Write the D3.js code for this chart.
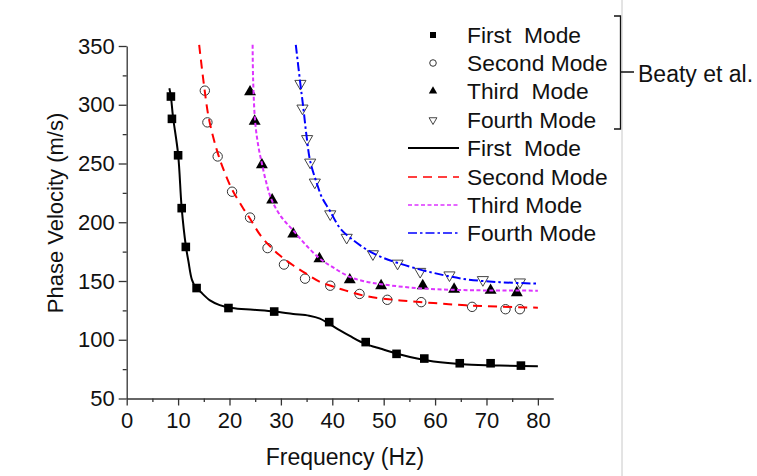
<!DOCTYPE html>
<html><head><meta charset="utf-8">
<script src="https://cdn.jsdelivr.net/npm/d3@7"></script>
<style>
body{margin:0;background:#fff;}
svg{font-family:Arial,"Liberation Sans",sans-serif;}
</style></head>
<body><svg id="c" width="757" height="476"></svg>
<script>
// ---- data ----
const xTicks = [0,10,20,30,40,50,60,70,80];
const xMinor = [5,15,25,35,45,55,65,75];
const yTicks = [50,100,150,200,250,300,350];
const yMinor = [75,125,175,225,275,325];

const measNames = ["First  Mode","Second Mode","Third  Mode","Fourth Mode"];
const lineNames = ["First  Mode","Second Mode","Third Mode","Fourth Mode"];
const groupLabel = "Beaty et al.";

const firstF  = [8.6,8.8,10.0,10.7,11.5,13.6,19.8,28.7,39.4,46.5,52.5,57.9,64.8,70.8,76.7];
const firstV  = [307,288,257,212,179,144,127,124,115,98,88,84,80,80,78];
const secondF = [15.2,15.7,17.7,20.5,24.0,27.4,30.6,34.7,39.6,45.3,50.7,57.3,67.2,73.7,76.5];
const secondV = [312,285,256,226,204,178,164,152,146,139,134,132,128,126,126];
const thirdF  = [24.0,24.9,26.3,28.3,32.4,37.5,43.4,49.5,57.6,63.7,70.8,75.9];
const thirdV  = [311,286,249,219,190,169,151,146,146,143,142,140];
const fourthF = [33.8,34.2,35.1,35.7,36.6,39.6,42.8,47.9,52.7,57.1,62.8,69.3,76.5];
const fourthV = [318,297,271,251,234,207,187,173,165,158,155,151,149];

const firstLineF  = [8.3,8.6,9.0,10.0,10.7,11.5,12.0,12.7,13.5,14.3,16.2,18.1,20.5,24.6,28.7,32.4,35.5,37.6,39.4,41.5,43.5,45.4,47.4,49.3,53.2,56.5,59.7,66.1,72.6,80.0];
const firstLineV  = [314,307,290,258,212,180,167,151,144,141,133.5,129.5,127,125.5,124,122,120.5,118,113.5,108,103,98.5,95,92.5,87.5,84,81.5,79,78,77.5];
const secondLineF = [14.1,15.0,16.0,17.5,19.0,20.5,22.5,24.0,26.0,28.0,30.0,32.5,35.0,37.5,40.0,42.5,46.7,53.2,59.7,66.0,72.6,80.0];
const secondLineV = [351,318,288,262,243,228,213,203,189,179,171,163,156,149.5,145.5,142,137,133.5,131.2,129.3,128.2,127.3];
const thirdLineF  = [24.5,24.6,25.0,25.6,26.3,27.2,28.2,30.0,32.4,35.0,37.6,40.0,43.4,46.5,49.9,56.4,62.9,69.4,80.0];
const thirdLineV  = [351,321,285,265,250,233,219,205,193,180,169,162,153.5,149.5,147,144,142.6,142,141.8];
const fourthLineF = [32.9,33.7,34.4,35.0,35.7,37.0,38.0,39.5,41.5,44.0,48.0,53.0,59.6,66.0,72.6,80.0];
const fourthLineV = [351,321,296,273,252,233,221,210,195,185,173.5,165,157,151.5,149,147.8];

// ---- build ----
const svg = d3.select("#c");
const x = d3.scaleLinear().domain([0,83]).range([126.7,553.3]);
const y = d3.scaleLinear().domain([50,350]).range([398.5,46]);

const zip = (a,b)=>a.map((v,i)=>[v,b[i]]);
const meas = [zip(firstF,firstV),zip(secondF,secondV),zip(thirdF,thirdV),zip(fourthF,fourthV)];
const lines = [zip(firstLineF,firstLineV),zip(secondLineF,secondLineV),zip(thirdLineF,thirdLineV),zip(fourthLineF,fourthLineV)];

const lineStyles = [
  {color:"#000000", dash:null, w:2},
  {color:"#ff0000", dash:"9,6", w:2},
  {color:"#dd33ff", dash:"4,2.5", w:2},
  {color:"#0000ff", dash:"9,3,2.5,3", w:2}
];

// markers
const sq = d3.symbol().type(d3.symbolSquare);
const tri = d3.symbol().type(d3.symbolTriangle);
function drawMarker(g, k, cx, cy, big){
  const s = big ? 1 : 0.7;
  if(k===0){
    g.append("path").attr("d", sq.size(74*s*s)()).attr("transform",`translate(${cx},${cy})`).attr("fill","#000");
  } else if(k===1){
    g.append("circle").attr("cx",cx).attr("cy",cy).attr("r",4.7*s).attr("fill","none").attr("stroke","#333").attr("stroke-width",1);
  } else if(k===2){
    g.append("path").attr("d", tri.size(62*s*s)()).attr("transform",`translate(${cx},${cy})`).attr("fill","#000");
  } else {
    g.append("path").attr("d", tri.size(54*s*s)()).attr("transform",`translate(${cx},${cy}) rotate(180)`).attr("fill","none").attr("stroke","#444").attr("stroke-width",1);
  }
}

const gm = svg.append("g");
meas.forEach((pts,k)=>pts.forEach(p=>drawMarker(gm,k,x(p[0]),y(p[1]),true)));

const lineGen = d3.line().x(d=>x(d[0])).y(d=>y(d[1])).curve(d3.curveCatmullRom.alpha(0.5));
lines.forEach((pts,k)=>{
  const st = lineStyles[k];
  svg.append("path").attr("d",lineGen(pts)).attr("fill","none")
    .attr("stroke",st.color).attr("stroke-width",st.w)
    .attr("stroke-dasharray",st.dash);
});

// axes
const axCol = "#333";
svg.append("g").attr("transform",`translate(0,${y(50)})`)
  .call(d3.axisBottom(x).tickValues(xTicks).tickSize(7).tickSizeOuter(0).tickPadding(6.5));
svg.append("g").attr("transform",`translate(0,${y(50)})`)
  .call(d3.axisBottom(x).tickValues(xMinor).tickSize(3.5).tickSizeOuter(0).tickFormat(""))
  .select(".domain").remove();
svg.append("g").attr("transform",`translate(${x(0)},0)`)
  .call(d3.axisLeft(y).tickValues(yTicks).tickSize(8).tickSizeOuter(0).tickPadding(4));
svg.append("g").attr("transform",`translate(${x(0)},0)`)
  .call(d3.axisLeft(y).tickValues(yMinor).tickSize(4).tickSizeOuter(0).tickFormat(""))
  .select(".domain").remove();
svg.selectAll(".domain, .tick line").attr("stroke",axCol).attr("stroke-width",1.3);
svg.selectAll(".tick text").attr("font-size",22).attr("fill","#111").attr("font-family","Arial, 'Liberation Sans', sans-serif");

// axis titles
svg.append("text").attr("x",345).attr("y",465).attr("text-anchor","middle")
  .attr("font-size",23).attr("fill","#111").text("Frequency (Hz)");
svg.append("text").attr("transform","translate(63,213) rotate(-90)").attr("text-anchor","middle")
  .attr("font-size",22).attr("fill","#111").text("Phase Velocity (m/s)");

// legend
const legRows = [35,63,91,120,148,177,205,233];
const lg = svg.append("g");
measNames.forEach((n,i)=>{
  drawMarker(lg,i,433,legRows[i],false);
  lg.append("text").attr("x",467).attr("y",legRows[i]+7.5).attr("font-size",22.8)
    .style("white-space","pre").attr("fill","#111").text(n);
});
lineNames.forEach((n,i)=>{
  const yy = legRows[4+i], st = lineStyles[i];
  lg.append("line").attr("x1",408).attr("x2",459).attr("y1",yy).attr("y2",yy)
    .attr("stroke",st.color).attr("stroke-width",i===0?2:1.6).attr("stroke-dasharray",st.dash);
  lg.append("text").attr("x",467).attr("y",yy+7.5).attr("font-size",22.8)
    .style("white-space","pre").attr("fill","#111").text(n);
});

// separator + bracket
svg.append("line").attr("x1",622).attr("x2",622).attr("y1",0).attr("y2",476).attr("stroke","#c8c8c8").attr("stroke-width",1);
svg.append("path").attr("d","M614,16H620.5V129H614M620.5,72H634").attr("fill","none").attr("stroke","#111").attr("stroke-width",1.3);
svg.append("text").attr("x",638).attr("y",82).attr("font-size",23).attr("fill","#111").text(groupLabel);
</script></body></html>
